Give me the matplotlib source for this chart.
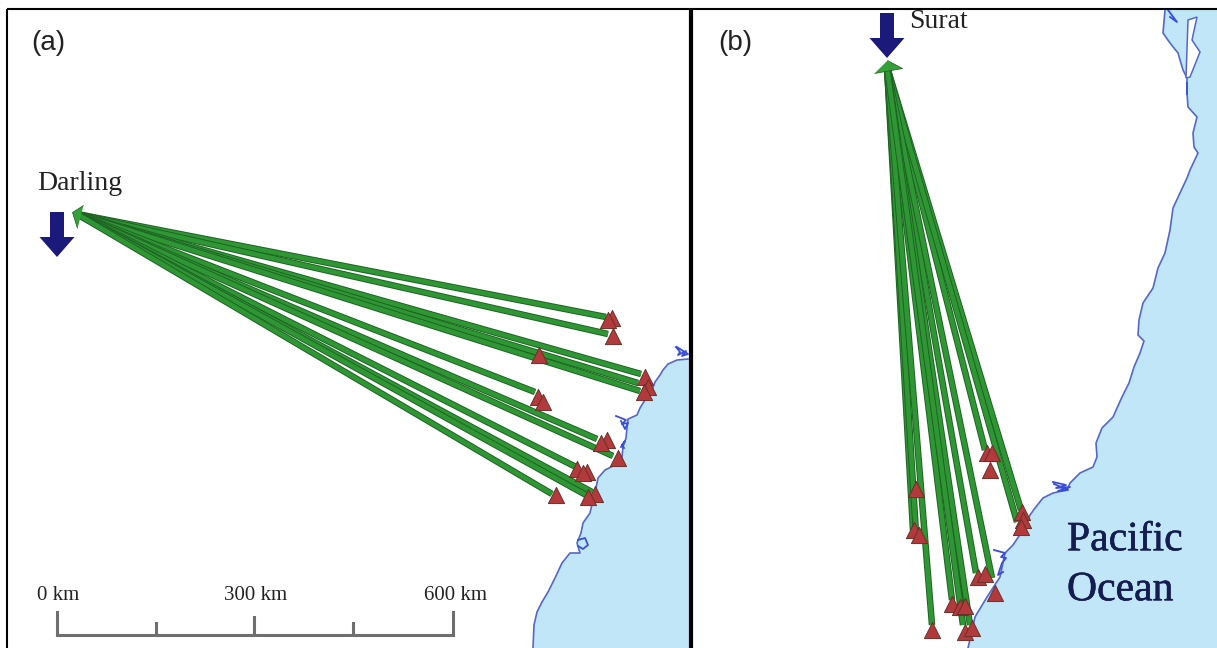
import numpy as np
import matplotlib
matplotlib.use("Agg")
import matplotlib.pyplot as plt
import matplotlib.patheffects as pe
from matplotlib.patches import FancyArrow

#%% Data, everything in pixel coordinates
coast_a_x = [688, 677, 668, 663, 660, 655, 652, 645, 640, 637, 628, 627, 626, 623, 622, 615, 605, 598, 596, 593, 590, 583, 581, 577, 580, 570, 562, 555, 548, 542, 537, 534, 533]
coast_a_y = [359, 360, 364, 370, 375, 382, 390, 400, 408, 415, 419, 428, 438, 447, 457, 465, 470, 478, 488, 500, 513, 523, 533, 543, 553, 553, 563, 578, 592, 602, 612, 625, 648]

coast_b_x = [1165, 1163, 1170, 1178, 1183, 1187, 1187, 1188, 1197, 1193, 1194, 1198, 1190, 1187, 1180, 1173, 1170, 1165, 1158, 1153, 1143, 1139, 1138, 1144, 1140, 1134, 1129, 1122, 1113, 1102, 1096, 1097, 1093, 1080, 1070, 1067, 1053, 1043, 1035, 1030, 1023, 1013, 1005, 1000, 987, 975, 968]
coast_b_y = [10, 33, 43, 53, 70, 78, 93, 107, 117, 133, 147, 153, 170, 178, 193, 208, 230, 253, 268, 288, 303, 320, 335, 341, 353, 367, 383, 397, 417, 428, 443, 457, 467, 473, 483, 490, 493, 498, 508, 515, 530, 545, 553, 577, 597, 617, 648]

island_x = [1188, 1197, 1192, 1200, 1190, 1186]
island_y = [20, 17, 40, 52, 77, 78]

inlet_a1_x = [676, 680, 678, 686, 682, 688, 680, 677]
inlet_a1_y = [347, 352, 355, 351, 356, 354, 349, 347]
inlet_a2_x = [616, 626, 622, 628, 625, 621]
inlet_a2_y = [416, 420, 424, 423, 429, 421]
inlet_a3_x = [621, 625, 622, 624]
inlet_a3_y = [447, 441, 445, 448]
inlet_a4_x = [578, 585, 588, 583, 578]
inlet_a4_y = [540, 538, 545, 549, 546]
inlet_b1_x = [1053, 1066, 1056, 1070, 1058, 1068, 1054]
inlet_b1_y = [482, 485, 488, 487, 491, 490, 484]
inlet_b2_x = [994, 1005, 1001, 1006, 1002, 998, 1003]
inlet_b2_y = [550, 553, 557, 558, 563, 575, 572]
inlet_b3_x = [1168, 1177, 1170]
inlet_b3_y = [10, 22, 17]
inlet_b4_x = [1187, 1187]
inlet_b4_y = [83, 94]

source_a_x, source_a_y = 77, 214
source_b_x, source_b_y = 887, 67

sites_a_x = [612, 608, 613, 539, 645, 648, 644, 538, 543, 607, 601, 618, 577, 587, 583, 595, 588, 556]
sites_a_y = [318, 320, 336, 355, 377, 387, 392, 397, 402, 440, 443, 458, 469, 472, 473, 494, 497, 495]

# line ends stop just short of the triangles in some cases, so they are separate
ends_a_x = [606, 608, 641, 638, 640, 535, 597, 613, 576, 592, 586, 552]
ends_a_y = [317, 334, 374, 383, 391, 392, 439, 456, 467, 492, 495, 494]

sites_b_x = [987, 992, 990, 916, 914, 919, 1022, 1023, 1021, 978, 985, 995, 952, 960, 965, 932, 965, 972]
sites_b_y = [453, 453, 470, 489, 530, 535, 512, 520, 527, 577, 574, 593, 604, 607, 606, 630, 632, 628]

ends_b_x = [985, 913, 916, 1021, 1017, 976, 992, 952, 961, 970, 932, 963]
ends_b_y = [450, 530, 533, 510, 522, 573, 578, 600, 604, 625, 625, 625]

scale_x = [57, 156, 254, 353, 453]
scale_top = [612, 623, 617, 623, 612]
scale_labels = ["0 km", "300 km", "600 km"]
scale_label_x = [58, 256, 455]

#%% Figure
SEA = "#c0e6f8"
COAST = "#5468cc"
NAVY = "#1b1a7a"
TRI = "#b23a3c"

fig = plt.figure(figsize=(12.17, 6.48), dpi=100)
ax = fig.add_axes([0, 0, 1, 1])
ax.set_xlim(0, 1217)
ax.set_ylim(648, 0)
ax.axis("off")

# sea and coast
ax.fill(coast_a_x + [690, 690], coast_a_y + [648, 359], color=SEA, lw=0, zorder=1)
ax.fill(coast_b_x + [1217, 1217], coast_b_y + [648, 10], color=SEA, lw=0, zorder=1)
ax.plot(coast_a_x, coast_a_y, color=COAST, lw=1.2, zorder=2)
ax.plot(coast_b_x, coast_b_y, color=COAST, lw=1.2, zorder=2)
ax.fill(island_x, island_y, facecolor="white", edgecolor=COAST, lw=1.1, zorder=2)
for ix, iy in [(inlet_a1_x, inlet_a1_y), (inlet_a2_x, inlet_a2_y), (inlet_a3_x, inlet_a3_y),
               (inlet_a4_x, inlet_a4_y), (inlet_b1_x, inlet_b1_y), (inlet_b2_x, inlet_b2_y),
               (inlet_b3_x, inlet_b3_y), (inlet_b4_x, inlet_b4_y)]:
    ax.plot(ix, iy, color="#3a4fd8", lw=1.3, zorder=2)

# connections, each one drawn edge then core so the overlaps go dark near the source
for sx, sy, ex, ey in [(source_a_x, source_a_y, ends_a_x, ends_a_y),
                       (source_b_x, source_b_y, ends_b_x, ends_b_y)]:
    for x, y in zip(ex, ey):
        ax.plot([sx, x], [sy, y], color="#1f6224", lw=4.7, solid_capstyle="butt", zorder=3)
        ax.plot([sx, x], [sy, y], color="#2e9734", lw=3.3, solid_capstyle="butt", zorder=3)

# source markers, flat triangles
head_a = [(6, 9), (-5, 2), (0, -14)]
head_b = [(-13, -6), (15, -1), (0, 7)]
ax.scatter([source_a_x], [source_a_y], marker=head_a, s=407, color="#35a03a", edgecolor="#1c5c20", lw=0.5, zorder=4)
ax.scatter([source_b_x], [source_b_y], marker=head_b, s=467, color="#35a03a", edgecolor="#1c5c20", lw=0.5, zorder=4)

# sites
ax.scatter(sites_a_x, sites_a_y, marker="^", s=135, color=TRI, edgecolor="#6a3028", lw=0.7, zorder=5)
ax.scatter(sites_b_x, sites_b_y, marker="^", s=135, color=TRI, edgecolor="#6a3028", lw=0.7, zorder=5)

# flow arrows
for x, y0, y1 in [(57, 212, 257), (887, 13, 58)]:
    ax.add_patch(FancyArrow(x, y0, 0, y1 - y0, width=14, head_width=35, head_length=20,
                            length_includes_head=True, color=NAVY, lw=0, zorder=6))

# scale bar
ax.plot([scale_x[0], scale_x[-1]], [635, 635], color="#6e6e6e", lw=2.2, zorder=3)
for x, t in zip(scale_x, scale_top):
    ax.plot([x, x], [t, 635], color="#6e6e6e", lw=2.2, zorder=3)
for x, s in zip(scale_label_x, scale_labels):
    ax.text(x, 595, s, family="Liberation Serif", fontsize=15, color="#222222", ha="center", va="center")

# labels
ax.text(31, 43, "(a)", family="Liberation Sans", fontsize=20, color="#222222", va="center")
ax.text(718, 43, "(b)", family="Liberation Sans", fontsize=20, color="#222222", va="center")
ax.text(37, 183, "Darling", family="Liberation Serif", fontsize=20, color="#222222", va="center")
ax.text(909, 21, "Surat", family="Liberation Serif", fontsize=20, color="#222222", va="center")
stroke = [pe.withStroke(linewidth=0.4, foreground="#141c50")]
ax.text(1067, 540, "Pacific", family="Liberation Serif", fontsize=30, color="#141c50", va="center", path_effects=stroke)
ax.text(1067, 590, "Ocean", family="Liberation Serif", fontsize=30, color="#141c50", va="center", path_effects=stroke)

# frame
ax.plot([7, 7], [9, 648], color="black", lw=1.5, solid_capstyle="butt", zorder=8)
ax.plot([7, 1217], [9, 9], color="black", lw=1.5, solid_capstyle="butt", zorder=8)
ax.plot([691, 691], [9, 648], color="black", lw=3.0, solid_capstyle="butt", zorder=8)

fig.savefig("out.png", dpi=100)
